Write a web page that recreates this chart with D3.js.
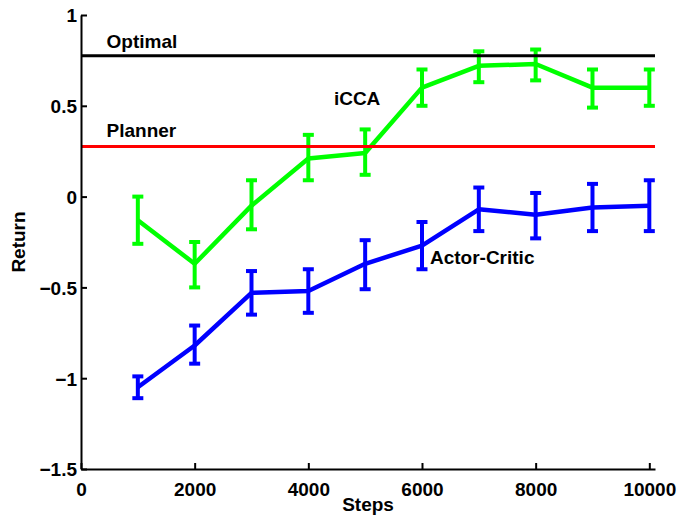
<!DOCTYPE html>
<html>
<head>
<meta charset="utf-8">
<script src="https://cdn.jsdelivr.net/npm/d3@7"></script>
<style>
  html, body { margin: 0; padding: 0; background: #fff; }
  svg { display: block; }
  text { font-family: "Liberation Sans", Arial, Helvetica, sans-serif; font-weight: bold; }
</style>
</head>
<body>
<svg id="chart" width="677" height="520"></svg>
<script>
// ---- data ----
const steps = [1000, 2000, 3000, 4000, 5000, 6000, 7000, 8000, 9000, 10000];
const iccaMean  = [-0.13, -0.37, -0.05, 0.21, 0.24, 0.60, 0.72, 0.73, 0.60, 0.60];
const iccaLow   = [-0.26, -0.50, -0.18, 0.09, 0.12, 0.50, 0.63, 0.64, 0.49, 0.50];
const iccaHigh  = [0.00, -0.25, 0.09, 0.34, 0.37, 0.70, 0.80, 0.81, 0.70, 0.70];
const acMean    = [-1.05, -0.82, -0.53, -0.52, -0.37, -0.27, -0.07, -0.10, -0.06, -0.05];
const acLow     = [-1.11, -0.92, -0.65, -0.64, -0.51, -0.40, -0.19, -0.23, -0.19, -0.19];
const acHigh    = [-0.99, -0.71, -0.41, -0.40, -0.24, -0.14, 0.05, 0.02, 0.07, 0.09];
const optimalValue = 0.775;
const plannerValue = 0.276;
const xTicks = [0, 2000, 4000, 6000, 8000, 10000];
const yTicks = [-1.5, -1, -0.5, 0, 0.5, 1];
const yTickLabels = ["\u22121.5", "\u22121", "\u22120.5", "0", "0.5", "1"];
const xDomain = [0, 10100];
const yDomain = [-1.5, 1];

// ---- layout ----
const svg = d3.select("#chart");
const mLeft = 81, mRight = 655, mTop = 15, mBottom = 469;
const x = d3.scaleLinear().domain(xDomain).range([mLeft, mRight]);
const y = d3.scaleLinear().domain(yDomain).range([mBottom, mTop]);

function series(mean, low, high, color) {
  const pts = steps.map((s, i) => ({ s, m: mean[i], lo: low[i], hi: high[i] }));
  const g = svg.append("g");
  g.append("path")
    .datum(pts)
    .attr("fill", "none")
    .attr("stroke", color)
    .attr("stroke-width", 4.5)
    .attr("stroke-linejoin", "round")
    .attr("d", d3.line().x(d => x(d.s)).y(d => y(d.m)));
  const eb = g.selectAll("g.eb").data(pts).enter().append("g");
  eb.append("line")
    .attr("x1", d => x(d.s)).attr("x2", d => x(d.s))
    .attr("y1", d => y(d.lo)).attr("y2", d => y(d.hi))
    .attr("stroke", color).attr("stroke-width", 4);
  eb.append("line")
    .attr("x1", d => x(d.s) - 5.5).attr("x2", d => x(d.s) + 5.5)
    .attr("y1", d => y(d.lo)).attr("y2", d => y(d.lo))
    .attr("stroke", color).attr("stroke-width", 4);
  eb.append("line")
    .attr("x1", d => x(d.s) - 5.5).attr("x2", d => x(d.s) + 5.5)
    .attr("y1", d => y(d.hi)).attr("y2", d => y(d.hi))
    .attr("stroke", color).attr("stroke-width", 4);
}

series(iccaMean, iccaLow, iccaHigh, "#00ff00");
series(acMean, acLow, acHigh, "#0000ff");

// reference lines
svg.append("line")
  .attr("x1", x(0)).attr("x2", x(xDomain[1]))
  .attr("y1", y(optimalValue)).attr("y2", y(optimalValue))
  .attr("stroke", "#000").attr("stroke-width", 3);
svg.append("line")
  .attr("x1", x(0)).attr("x2", x(xDomain[1]))
  .attr("y1", y(plannerValue)).attr("y2", y(plannerValue))
  .attr("stroke", "#ff0000").attr("stroke-width", 3);

// axes
const xAxis = d3.axisBottom(x).tickValues(xTicks).tickSizeInner(-6).tickSizeOuter(0).tickPadding(14)
  .tickFormat(d3.format("d"));
const gx = svg.append("g").attr("transform", `translate(0,${mBottom})`).call(xAxis);
const yAxis = d3.axisLeft(y).tickValues(yTicks).tickSizeInner(-6).tickSizeOuter(0).tickPadding(10)
  .tickFormat((d, i) => yTickLabels[i]);
const gy = svg.append("g").attr("transform", `translate(${mLeft},0)`).call(yAxis);
[gx, gy].forEach(g => {
  g.select(".domain").attr("stroke", "#000").attr("stroke-width", 2);
  g.selectAll(".tick line").attr("stroke", "#000").attr("stroke-width", 2);
  g.selectAll(".tick text").attr("fill", "#000").style("font-size", "19px")
    .style("font-family", "'Liberation Sans', Arial, sans-serif").style("font-weight", "bold");
});
gy.selectAll(".tick text").attr("x", -4).attr("dy", "0.36em");

// labels
const lab = (t, px, py, anchor, size) => svg.append("text")
  .attr("x", px).attr("y", py).attr("text-anchor", anchor || "start")
  .style("font-size", (size || 19) + "px").attr("fill", "#000").text(t);
lab("Optimal", x(450), y(optimalValue) - 8);
lab("Planner", x(450), y(plannerValue) - 9);
lab("iCCA", x(4450), y(0.505));
lab("Actor-Critic", x(6140), y(-0.37));
lab("Steps", (mLeft + mRight) / 2 + 0, 511, "middle", 19);
svg.append("text")
  .attr("transform", `translate(25,${(mTop + mBottom) / 2})rotate(-90)`)
  .attr("text-anchor", "middle")
  .style("font-size", "19px").attr("fill", "#000").text("Return");
</script>
</body>
</html>
